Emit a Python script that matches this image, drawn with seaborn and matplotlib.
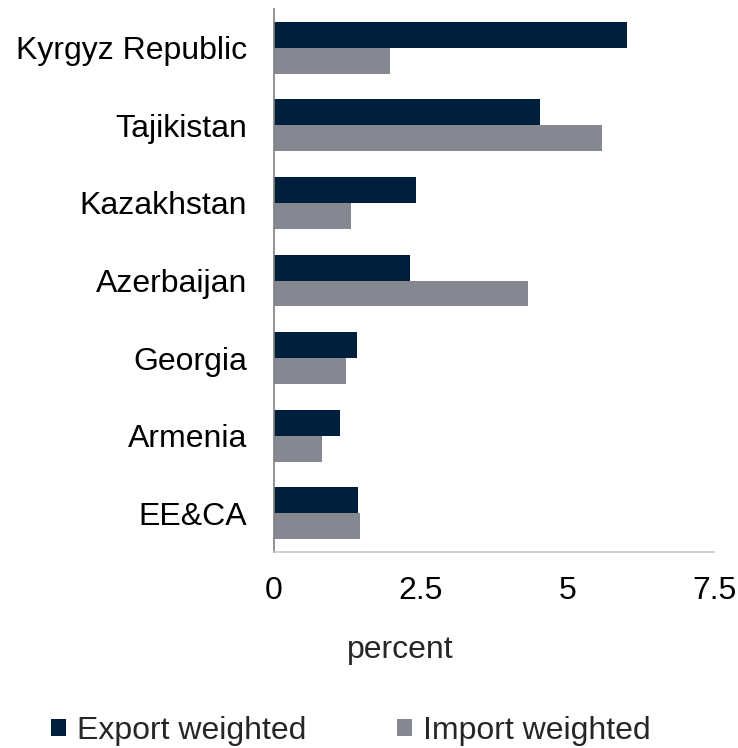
import matplotlib
matplotlib.use("Agg")
import matplotlib.pyplot as plt
import seaborn as sns
import pandas as pd

countries = ["Kyrgyz Republic", "Tajikistan", "Kazakhstan", "Azerbaijan",
             "Georgia", "Armenia", "EE&CA"]
export_weighted = [6.01, 4.54, 2.43, 2.32, 1.42, 1.13, 1.44]
import_weighted = [1.99, 5.59, 1.32, 4.34, 1.23, 0.83, 1.48]
series_names = ["Export weighted", "Import weighted"]
colors = ["#001F3D", "#868891"]
x_ticks = [0, 2.5, 5, 7.5]
x_tick_labels = ["0", "2.5", "5", "7.5"]

df = pd.DataFrame({
    "country": countries * 2,
    "value": export_weighted + import_weighted,
    "series": [series_names[0]] * len(countries) + [series_names[1]] * len(countries),
})

sns.set_style("white")
plt.rcParams["font.family"] = ["Liberation Sans", "DejaVu Sans"]

fig = plt.figure(figsize=(7.38, 7.48), dpi=100)
ax = fig.add_axes([0.3706, 0.262, 0.597, 0.726])

sns.barplot(data=df, y="country", x="value", hue="series", orient="h",
            palette=colors, saturation=1, width=0.67, linewidth=0,
            order=countries, hue_order=series_names, ax=ax)

ax.set_xlim(0, 7.5)
ax.set_ylim(len(countries) - 0.5, -0.5)
ax.set_xticks(x_ticks)
ax.set_xticklabels(x_tick_labels)
ax.set_xlabel("")
ax.set_ylabel("")
ax.tick_params(axis="x", length=0, pad=17, labelsize=23, colors="black")
ax.tick_params(axis="y", length=0, pad=19, labelsize=23, colors="black")

for s in ["top", "right"]:
    ax.spines[s].set_visible(False)
ax.spines["left"].set_color("#808080")
ax.spines["left"].set_linewidth(1.2)
ax.spines["bottom"].set_color("#c8c8c8")
ax.spines["bottom"].set_linewidth(1.2)

fig.text(400 / 738, 1 - 650 / 748, "percent", ha="center", va="center", fontsize=23)

handles, labels = ax.get_legend_handles_labels()
ax.get_legend().remove()
fig.legend(handles, labels, loc="center", bbox_to_anchor=(0.475, 0.023),
           ncol=2, frameon=False, fontsize=23, handlelength=0.48, handleheight=0.48,
           handletextpad=0.33, columnspacing=2.85, borderpad=0)

fig.savefig("out.png", dpi=100)
